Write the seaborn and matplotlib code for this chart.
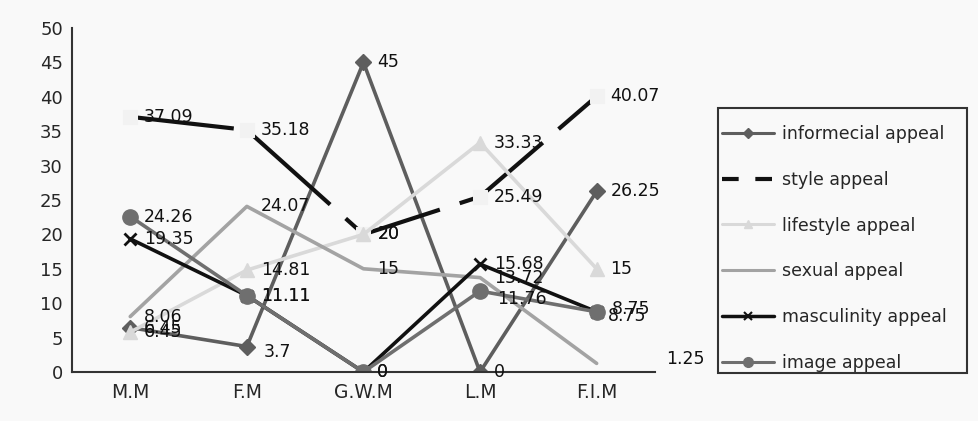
import matplotlib
matplotlib.use("Agg")
import matplotlib.pyplot as plt
from matplotlib.lines import Line2D
import numpy as np
import pandas as pd
import seaborn as sns

# Datos
categorias = ["M.M", "F.M", "G.W.M", "L.M", "F.I.M"]
series = ["informecial appeal", "style appeal", "lifestyle appeal",
          "sexual appeal", "masculinity appeal", "image appeal"]

informecial = [6.45, 3.7, 45, 0, 26.25]
style = [37.09, 35.18, 20, 25.49, 40.07]
lifestyle = [5.8, 14.81, 20, 33.33, 15]
sexual = [8.06, 24.07, 15, 13.72, 1.25]
masculinity = [19.35, 11.11, 0, 15.68, 8.75]
image = [22.6, 11.11, 0, 11.76, 8.75]

# Etiquetas tal como aparecen en el grafico
etq_informecial = ["6.45", "3.7", "45", "0", "26.25"]
etq_style = ["37.09", "35.18", "20", "25.49", "40.07"]
etq_lifestyle = ["6.45", "14.81", "20", "33.33", "15"]
etq_sexual = ["8.06", "24.07", "15", "13.72", "1.25"]
etq_masculinity = ["19.35", "11.11", "0", "15.68", "8.75"]
etq_image = ["24.26", "11.11", "0", "11.76", "8.75"]

valores = [informecial, style, lifestyle, sexual, masculinity, image]
etiquetas = [etq_informecial, etq_style, etq_lifestyle, etq_sexual,
             etq_masculinity, etq_image]

# Estilo de cada serie
colores = ["#5e5e5e", "#111111", "#d9d9d9", "#a3a3a3", "#111111", "#6f6f6f"]
marcadores = ["D", "s", "^", None, "x", "o"]
tam_marc = [8, 10, 10, 0, 9, 11]

sns.set_style("white")
plt.rcParams["font.family"] = ["DejaVu Sans"]

fig = plt.figure(figsize=(9.79, 4.21), dpi=100, facecolor="#f9f9f9")
ax = fig.add_axes([0.0735, 0.1164, 0.5955, 0.8171])
ax.set_facecolor("#f9f9f9")

x = np.arange(len(categorias))
for nombre, vals, col, mk, ms in zip(series, valores, colores, marcadores, tam_marc):
    df = pd.DataFrame({"x": x, "y": vals})
    if nombre == "style appeal":
        # marcadores casi invisibles, como en el original
        sns.lineplot(data=df, x="x", y="y", ax=ax, color=col, lw=3,
                     marker="s", markersize=ms, markerfacecolor="#f2f2f2",
                     markeredgecolor="#f2f2f2", legend=False)
        ax.lines[-1].set_dashes((25, 5))
    else:
        sns.lineplot(data=df, x="x", y="y", ax=ax, color=col, lw=2.6,
                     marker=mk, markersize=ms, markeredgecolor=col,
                     markeredgewidth=2 if mk == "x" else 1, legend=False)

# Etiquetas de datos
ajustes = {("sexual appeal", 4): (50, 3),
           ("masculinity appeal", 4): (11, 2),
           ("image appeal", 4): (8, -3),
           ("image appeal", 3): (12, -6),
           ("informecial appeal", 1): (12, -4)}
for nombre, vals, etq in zip(series, valores, etiquetas):
    for i, (v, t) in enumerate(zip(vals, etq)):
        dx, dy = ajustes.get((nombre, i), (10, 0))
        ax.annotate(t, (i, v), xytext=(dx, dy), textcoords="offset points",
                    ha="left", va="center", fontsize=12.5, color="#111111")

ax.set_xlim(-0.5, 4.5)
ax.set_ylim(0, 50)
ax.set_yticks(range(0, 51, 5))
ax.set_xticks(x, labels=categorias)
ax.set_xticks(np.arange(-0.5, 5, 1), minor=True)
ax.tick_params(axis="x", which="major", length=0, labelsize=13.5, pad=8)
ax.tick_params(axis="x", which="minor", direction="in", length=6, width=1.2, color="#333333")
ax.tick_params(axis="y", direction="out", length=3, width=1.2, labelsize=13, color="#333333")
for lado in ["top", "right"]:
    ax.spines[lado].set_visible(False)
for lado in ["left", "bottom"]:
    ax.spines[lado].set_color("#333333")
    ax.spines[lado].set_linewidth(1.5)
ax.set_xlabel("")
ax.set_ylabel("")

# Leyenda con marcadores pequenos
handles = [
    Line2D([], [], color=colores[0], lw=2.2, marker="D", markersize=5),
    Line2D([], [], color=colores[1], lw=3, dashes=(4, 4)),
    Line2D([], [], color=colores[2], lw=2.2, marker="^", markersize=6),
    Line2D([], [], color=colores[3], lw=2.2),
    Line2D([], [], color=colores[4], lw=2.5, marker="x", markersize=6, markeredgewidth=1.5),
    Line2D([], [], color=colores[5], lw=2.2, marker="o", markersize=7),
]
fig.legend(handles, series, loc="upper left",
           bbox_to_anchor=(722 / 979, 1 - 125 / 421),
           fontsize=12.5, frameon=False, handlelength=3.0,
           labelspacing=1.6, borderpad=0, handletextpad=0.45,
           borderaxespad=0)
fig.add_artist(plt.Rectangle((718 / 979, 1 - 373 / 421), 249 / 979, 265 / 421,
                             transform=fig.transFigure, fill=False,
                             edgecolor="#333333", linewidth=1.5))

fig.savefig("out.png", dpi=100, facecolor=fig.get_facecolor())
